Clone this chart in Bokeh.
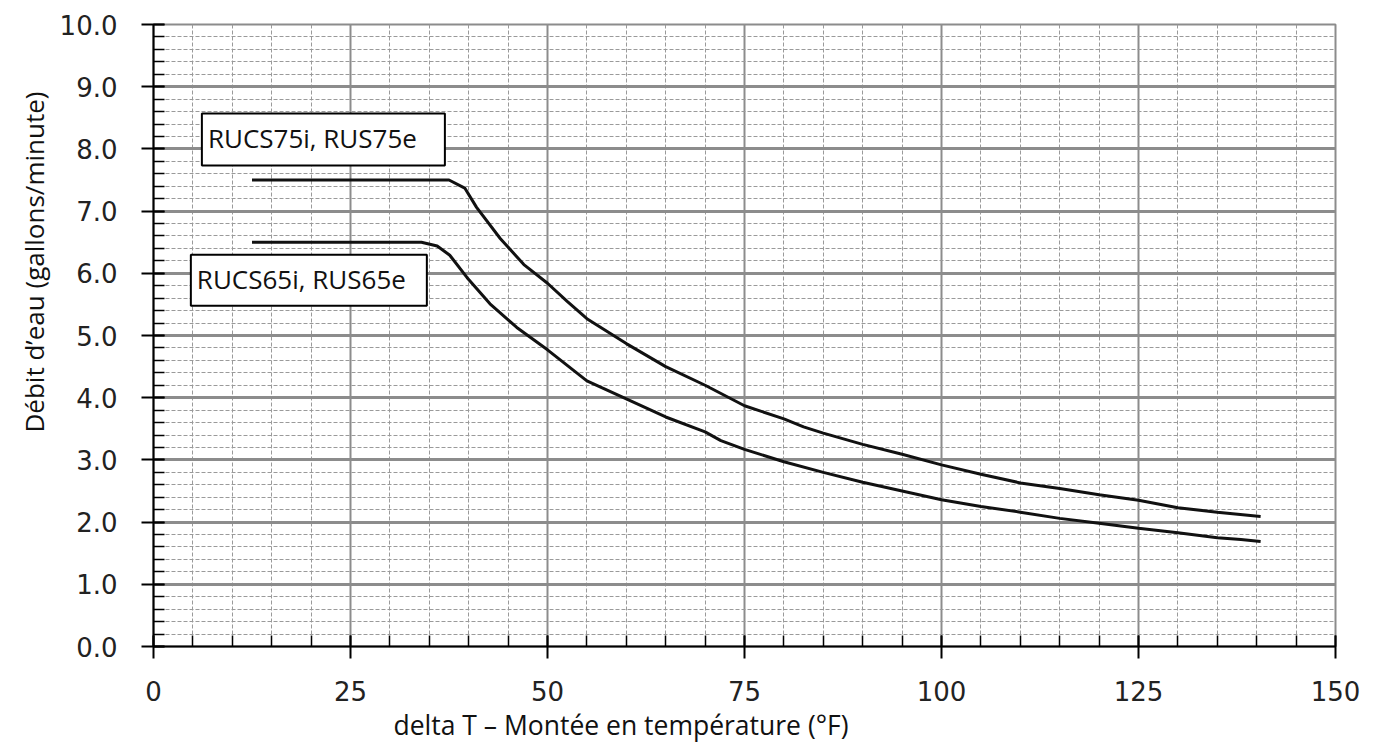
from bokeh.plotting import figure
from bokeh.models import Range1d, FixedTicker, Label, NumeralTickFormatter, Title
from bokeh.embed import file_html
from bokeh.resources import INLINE

# ---- data ----
x_major_ticks = [0, 25, 50, 75, 100, 125, 150]
x_minor_ticks = list(range(0, 151, 5))
y_major_ticks = [0, 1, 2, 3, 4, 5, 6, 7, 8, 9, 10]
y_minor_ticks = [round(i * 0.2, 1) for i in range(0, 51)]

series75_name = "RUCS75i, RUS75e"
series75_x = [12.5, 37.5, 39.5, 41.0, 44.0, 47.0, 50, 52.5, 55, 60, 65, 70, 75, 80, 82.5, 85,
              90, 95, 100, 105, 110, 115, 120, 125, 130, 135, 140.5]
series75_y = [7.5, 7.5, 7.37, 7.06, 6.56, 6.14, 5.84, 5.55, 5.27, 4.87, 4.50, 4.20, 3.87, 3.66, 3.53, 3.43,
              3.25, 3.09, 2.92, 2.77, 2.63, 2.54, 2.44, 2.35, 2.23, 2.16, 2.09]

series65_name = "RUCS65i, RUS65e"
series65_x = [12.5, 34.0, 36.0, 37.6, 39.8, 42.7, 46.1, 50, 55, 60, 65, 70, 72, 75, 80, 85,
              90, 95, 100, 105, 110, 115, 120, 125, 130, 135, 138, 140.5]
series65_y = [6.5, 6.5, 6.44, 6.29, 5.93, 5.51, 5.13, 4.77, 4.27, 3.98, 3.69, 3.45, 3.31, 3.17, 2.97, 2.80,
              2.64, 2.50, 2.36, 2.25, 2.16, 2.06, 1.98, 1.90, 1.83, 1.75, 1.72, 1.69]

x_title = "delta T \u2013 Mont\u00e9e en temp\u00e9rature (\u00b0F)"
y_title = "D\u00e9bit d\u2019eau (gallons/minute)"

# ---- annotation placement ----
label75_pos = (6.14, 8.15)   # data units (box left edge, box centre)
label65_pos = (4.74, 5.89)
label75_pad = (6, 28, 6, 10)
label65_pad = (6, 21, 6, 9)
x_title_offset = 240         # px from left edge of the frame
y_title_offset = 214         # px up from bottom edge of the frame

p = figure(
    frame_width=1182, frame_height=622,
    min_border_left=153, min_border_right=40, min_border_top=24, min_border_bottom=90,
    x_range=Range1d(0, 150), y_range=Range1d(0, 10),
    output_backend="svg", toolbar_location=None,
    background_fill_color="white", border_fill_color="white",
)
p.outline_line_color = "#8c8c8c"
p.outline_line_width = 2

# axes
p.xaxis.ticker = FixedTicker(ticks=x_major_ticks, minor_ticks=x_minor_ticks)
p.yaxis.ticker = FixedTicker(ticks=y_major_ticks, minor_ticks=y_minor_ticks)
p.yaxis.formatter = NumeralTickFormatter(format="0.0")

for ax in (p.xaxis, p.yaxis):
    ax.axis_line_color = "black"
    ax.axis_line_width = 2
    ax.major_tick_line_color = "black"
    ax.major_tick_line_width = 2
    ax.major_tick_out = 12
    ax.major_tick_in = 11
    ax.minor_tick_line_color = "black"
    ax.minor_tick_line_width = 1.5
    ax.minor_tick_in = 11
    ax.minor_tick_out = 0
    ax.major_label_text_font = "DejaVu Sans"
    ax.major_label_text_font_size = "26px"
    ax.major_label_text_color = "#222222"

p.yaxis.major_label_standoff = 24
p.xaxis.major_label_standoff = 22

# grids
for g in (p.xgrid, p.ygrid):
    g.grid_line_color = "#8c8c8c"
    g.minor_grid_line_color = "#9a9a9a"
    g.minor_grid_line_width = 1
    g.minor_grid_line_dash = "4 2"
p.xgrid.grid_line_width = 2
p.ygrid.grid_line_width = 3

# curves
p.line(series75_x, series75_y, line_width=3, line_color="#111111")
p.line(series65_x, series65_y, line_width=3, line_color="#111111")

# series labels
for (lx, ly), txt, pad in ((label75_pos, series75_name, label75_pad),
                           (label65_pos, series65_name, label65_pad)):
    p.add_layout(Label(
        x=lx, y=ly, text=txt, text_align="left", text_baseline="middle",
        text_font="Open Sans", text_font_size="26px", text_color="#111111",
        background_fill_color="white", border_line_color="black", border_line_width=2,
        padding=pad,
    ))

# axis titles
p.add_layout(Title(
    text=x_title, align="left", offset=x_title_offset, standoff=2,
    text_font="Open Sans", text_font_size="26.5px", text_font_style="normal", text_color="#111111",
), "below")
p.add_layout(Title(
    text=y_title, align="left", offset=y_title_offset, standoff=5, vertical_align="top",
    text_font="Open Sans", text_font_size="26px", text_font_style="normal", text_color="#111111",
), "left")

open("out.html", "w").write(file_html(p, INLINE))
